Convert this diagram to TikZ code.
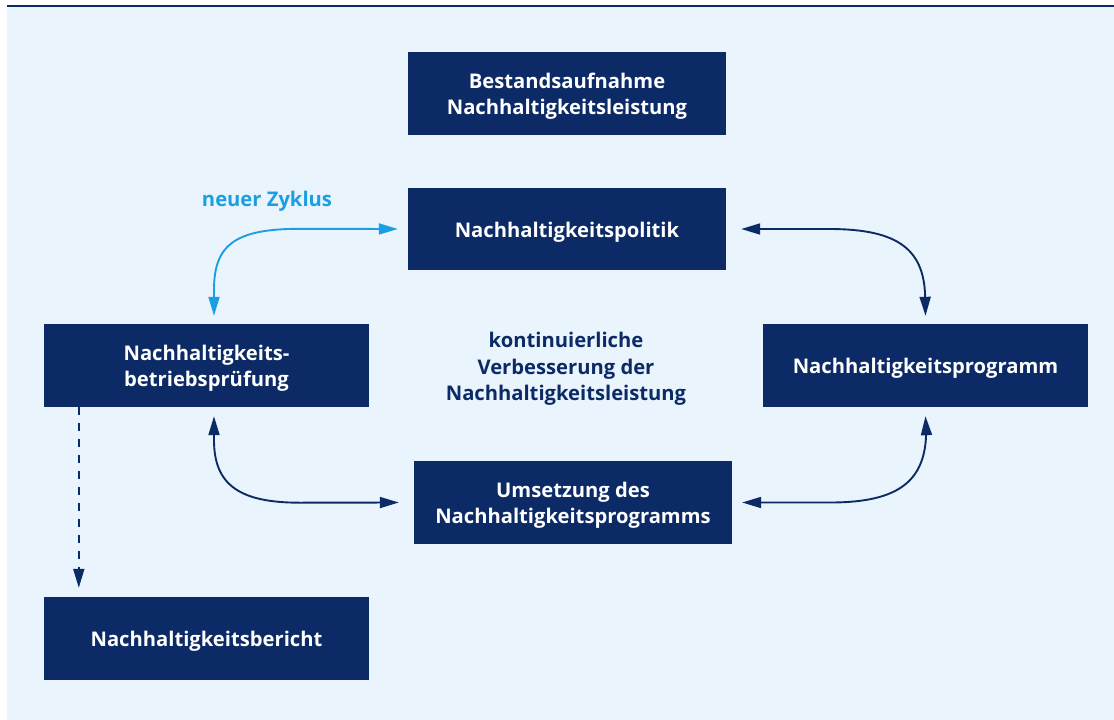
\documentclass[tikz,border=0pt]{standalone}
\usepackage{fontspec}
\setmainfont{Open Sans}
\usetikzlibrary{arrows.meta,calc}
\definecolor{navy}{HTML}{0B2A66}
\definecolor{skyc}{HTML}{1A9FE3}
\definecolor{bgc}{HTML}{EAF4FD}
\newcommand{\boxfont}{\bfseries\fontsize{20.2}{26.5}\selectfont}
\newcommand{\lowtext}[1]{\raisebox{-2.8pt}[\height][\depth]{\begin{tabular}{@{}c@{}}#1\end{tabular}}}
\tikzset{
  tipshape/.tip={Triangle[length=19pt,width=11pt]},
  box/.style={fill=navy, text=white, font=\boxfont, inner sep=0pt},
  navyarr/.style={draw=navy, line width=1.9pt, tipshape-tipshape},
  cyanarr/.style={draw=skyc, line width=1.9pt, tipshape-tipshape},
  dasharr/.style={draw=navy, line width=1.9pt, dash pattern=on 8pt off 8pt, -tipshape}
}
\begin{document}
\begin{tikzpicture}[x=1pt,y=-1pt]
\useasboundingbox (0,0) rectangle (1114,720);
\fill[bgc] (7,7) rectangle (1114,720);
\fill[navy] (7,4.8) rectangle (1114,7.4);
\node[box, minimum width=318pt, minimum height=83pt] (best) at (567,93.5) {\lowtext{Bestandsaufnahme\\Nachhaltigkeitsleistung}};
\node[box, minimum width=318pt, minimum height=82pt] (pol) at (567,229) {\lowtext{Nachhaltigkeitspolitik}};
\node[box, minimum width=325pt, minimum height=83pt] (bp) at (206.5,365.5) {\lowtext{Nachhaltigkeits-\\betriebsprüfung}};
\node[box, minimum width=325pt, minimum height=83pt] (prog) at (925.5,365.5) {\lowtext{Nachhaltigkeitsprogramm}};
\node[box, minimum width=318pt, minimum height=83pt] (ums) at (573,502.5) {\lowtext{Umsetzung des\\Nachhaltigkeitsprogramms}};
\node[box, minimum width=325pt, minimum height=83pt] (ber) at (206.5,638.5) {\lowtext{Nachhaltigkeitsbericht}};
\node[text=navy, font=\boxfont, inner sep=0pt] (mid) at (566,366) {\lowtext{kontinuierliche\\Verbesserung der\\Nachhaltigkeitsleistung}};
\node[text=skyc, font=\boxfont, inner sep=0pt] (zyk) at (267,198) {\lowtext{neuer Zyklus}};
% connectors
\draw[cyanarr] ([xshift=7.5pt,yshift=8pt]bp.north) -- ++(0,-26) .. controls +(0,-45) and +(-65,0) .. ++(86,-61) -- ([xshift=-10pt]pol.west);
\draw[navyarr] ([xshift=15pt]pol.east) -- ++(88,0) .. controls +(70,0) and +(0,-50) .. ++(96,71) -- ([yshift=8pt]prog.north);
\draw[navyarr] ([xshift=7.5pt,yshift=-9pt]bp.south) -- ++(0,24) .. controls +(0,45) and +(-60,0) .. ++(86,62.5) -- ([xshift=-15pt]ums.west);
\draw[navyarr] ([xshift=10pt]ums.east) -- ++(88,0) .. controls +(70,0) and +(0,50) .. ++(96,-72.5) -- ([yshift=-9pt]prog.south);
\draw[dasharr] ([xshift=35pt]bp.south west) -- ([xshift=35pt,yshift=9pt]ber.north west);
\end{tikzpicture}
\end{document}
